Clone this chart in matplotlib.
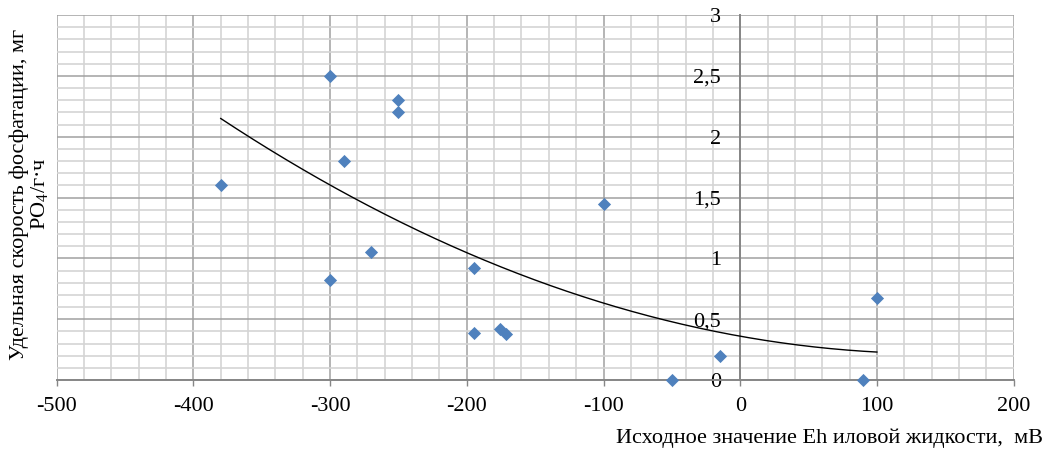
import numpy as np
import matplotlib
matplotlib.use("Agg")
import matplotlib.pyplot as plt
from matplotlib.ticker import MultipleLocator, FuncFormatter

plt.rcParams['font.family'] = ['Liberation Serif', 'DejaVu Serif']
plt.rcParams['mathtext.fontset'] = 'custom'
plt.rcParams['mathtext.rm'] = 'Liberation Serif'

# Data
eh_mv = [-380, -300, -250, -250, -290, -270, -300, -195, -195, -176, -171, -100, -50, -15, 90, 100]
rate = [1.60, 2.50, 2.30, 2.20, 1.80, 1.05, 0.82, 0.92, 0.39, 0.42, 0.38, 1.45, 0.00, 0.20, 0.00, 0.67]

# Trend line points (polynomial trend)
trend_x = [-380, -300, -200, -100, 0, 100]
trend_y = [2.15, 1.60, 1.05, 0.63, 0.36, 0.23]

x_label = "Исходное значение Eh иловой жидкости,  мВ"
y_label = "Удельная скорость фосфатации, мг\nPO$_\\mathregular{4}$/г·ч"

FS = 16

fig = plt.figure(figsize=(10.47, 4.5), dpi=100)
ax = fig.add_axes([56.7/1047, 70/450, (1013.6-56.7)/1047, 365/450])

ax.set_xlim(-500, 200)
ax.set_ylim(0, 3)
ax.xaxis.set_major_locator(MultipleLocator(100))
ax.xaxis.set_minor_locator(MultipleLocator(20))
ax.yaxis.set_major_locator(MultipleLocator(0.5))
ax.yaxis.set_minor_locator(MultipleLocator(0.1))

ax.grid(which='minor', color='#d4d4d4', lw=1.2)
ax.grid(which='major', color='#a0a0a0', lw=1.1)
ax.set_axisbelow(True)

for s in ['top', 'right']:
    ax.spines[s].set_visible(False)
ax.spines['left'].set_position(('data', 0))
ax.spines['left'].set_color('#868686')
ax.spines['left'].set_linewidth(1.4)
ax.spines['bottom'].set_color('#868686')
ax.spines['bottom'].set_linewidth(1.4)

ax.tick_params(axis='y', which='both', length=0, pad=14, labelsize=FS)
ax.tick_params(axis='x', which='major', length=4, width=1, color='#868686', labelsize=FS, pad=8)
ax.tick_params(axis='x', which='minor', length=0)

def yfmt(v, pos):
    return ('%g' % v).replace('.', ',')
ax.yaxis.set_major_formatter(FuncFormatter(yfmt))
ax.xaxis.set_major_formatter(FuncFormatter(lambda v, p: '%d' % v))

coef = np.polyfit(trend_x, trend_y, 2)
xx = np.linspace(min(trend_x), max(trend_x), 200)
ax.plot(xx, np.polyval(coef, xx), color='black', lw=1.0, zorder=3)

ax.scatter(eh_mv, rate, marker='D', s=45, color='#4f81bd', zorder=4, clip_on=False, linewidths=0)

fig.text(1043/1047, 1 - 438/450, x_label, ha='right', va='center', fontsize=FS)
fig.text(30/1047, 1 - 194/450, y_label, ha='center', va='center', rotation=90, fontsize=FS,
         multialignment='center', linespacing=1.05)

fig.savefig('out.png', dpi=100)
